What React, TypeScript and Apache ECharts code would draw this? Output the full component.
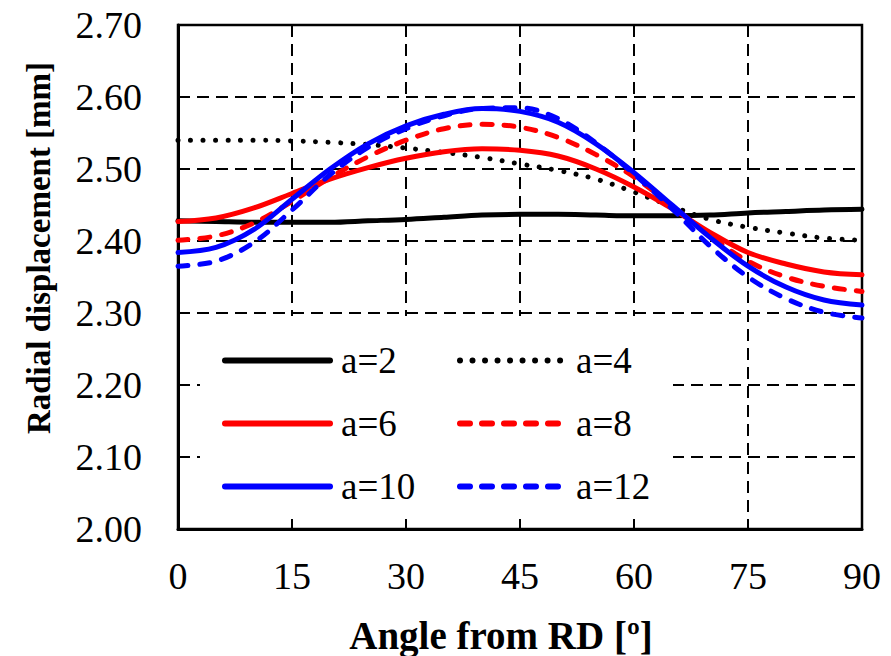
import React, { useEffect, useRef } from "react";
import * as echarts from "echarts";

const angles = [0, 5, 10, 15, 20, 25, 30, 35, 40, 45, 50, 55, 60, 65, 70, 75, 80, 85, 90];
const a2 = [2.428, 2.427, 2.426, 2.426, 2.426, 2.428, 2.430, 2.433, 2.436, 2.437, 2.437, 2.436, 2.435, 2.435, 2.436, 2.439, 2.441, 2.443, 2.444];
const a4 = [2.540, 2.540, 2.540, 2.539, 2.537, 2.534, 2.529, 2.523, 2.516, 2.507, 2.498, 2.486, 2.468, 2.448, 2.430, 2.419, 2.411, 2.404, 2.401];
const a6 = [2.427, 2.432, 2.446, 2.466, 2.486, 2.502, 2.515, 2.524, 2.528, 2.526, 2.518, 2.500, 2.475, 2.445, 2.412, 2.384, 2.368, 2.357, 2.353];
const a8 = [2.401, 2.407, 2.425, 2.455, 2.488, 2.517, 2.540, 2.556, 2.562, 2.558, 2.544, 2.520, 2.489, 2.449, 2.407, 2.372, 2.350, 2.337, 2.330];
const a10 = [2.384, 2.391, 2.416, 2.458, 2.500, 2.535, 2.560, 2.576, 2.584, 2.580, 2.565, 2.535, 2.495, 2.450, 2.405, 2.365, 2.336, 2.318, 2.311];
const a12 = [2.365, 2.372, 2.398, 2.443, 2.492, 2.530, 2.556, 2.574, 2.584, 2.585, 2.570, 2.536, 2.493, 2.445, 2.393, 2.350, 2.320, 2.301, 2.293];

const seriesNames = ["a=2", "a=4", "a=6", "a=8", "a=10", "a=12"];
const seriesValues = [a2, a4, a6, a8, a10, a12];
const seriesColors = ["#000000", "#000000", "#ff0000", "#ff0000", "#0000ff", "#0000ff"];
const seriesDash: any[] = ["solid", [0.01, 12.5], "solid", [10, 12], "solid", [10, 12]];

const xTitle = "Angle from RD [º]";
const yTitle = "Radial displacement [mm]";

const FONT = "Liberation Serif";

export default function App() {
  const ref = useRef<HTMLDivElement>(null);
  useEffect(() => {
    if (!ref.current) return;
    const chart = echarts.init(ref.current, undefined, { renderer: "svg" });
    const series = seriesNames.map((name, i) => ({
      name,
      type: "line",
      data: angles.map((a, j) => [a, seriesValues[i][j]]),
      smooth: 0.35,
      symbol: "none",
      lineStyle: {
        color: seriesColors[i],
        width: 5,
        type: seriesDash[i],
        cap: "round",
        join: "round",
      },
      itemStyle: { color: seriesColors[i] },
    }));
    const legendCommon = {
      orient: "vertical",
      top: 342,
      itemWidth: 105,
      itemHeight: 14,
      itemGap: 26,
      padding: 0,
      selectedMode: false,
      lineStyle: { width: 6 },
      itemStyle: { opacity: 0, color: "transparent", borderWidth: 0 },
      textStyle: {
        fontFamily: FONT,
        fontSize: 37,
        color: "#000",
        padding: [0, 0, 0, 6],
      },
      z: 10,
    };
    chart.setOption({
      animation: false,
      backgroundColor: "#fff",
      textStyle: { fontFamily: FONT },
      grid: {
        left: 178,
        right: 29,
        top: 25,
        bottom: 127,
        containLabel: false,
        show: true,
        borderColor: "#000",
        borderWidth: 2.5,
        backgroundColor: "transparent",
      },
      xAxis: {
        type: "value",
        min: 0,
        max: 90,
        interval: 15,
        axisLine: { show: true, lineStyle: { color: "#000", width: 3 } },
        axisTick: { show: false },
        axisLabel: { margin: 28, fontFamily: FONT, fontSize: 38, color: "#000" },
        splitLine: { show: true, lineStyle: { color: "#000", width: 2, type: [12, 7] } },
      },
      yAxis: {
        type: "value",
        min: 2.0,
        max: 2.7,
        interval: 0.1,
        axisLine: { show: true, lineStyle: { color: "#000", width: 3 } },
        axisTick: { show: false },
        axisLabel: {
          margin: 36,
          fontFamily: FONT,
          fontSize: 38,
          color: "#000",
          formatter: (v: number) => v.toFixed(2),
        },
        splitLine: { show: true, lineStyle: { color: "#000", width: 2, type: [12, 7] } },
      },
      legend: [
        { ...legendCommon, left: 222, data: ["a=2", "a=6", "a=10"] },
        { ...legendCommon, left: 457, data: ["a=4", "a=8", "a=12"] },
      ],
      graphic: [
        {
          type: "rect",
          z: 1,
          shape: { x: 200, y: 316, width: 473, height: 201 },
          style: { fill: "#fff" },
          silent: true,
        },
        {
          type: "text",
          x: 501,
          y: 635,
          z: 5,
          style: {
            text: xTitle,
            fontFamily: FONT,
            fontWeight: "bold",
            fontSize: 39,
            fill: "#000",
            align: "center",
            verticalAlign: "middle",
          },
        },
        {
          type: "text",
          x: 39,
          y: 248,
          rotation: Math.PI / 2,
          z: 5,
          style: {
            text: yTitle,
            fontFamily: FONT,
            fontWeight: "bold",
            fontSize: 33,
            fill: "#000",
            align: "center",
            verticalAlign: "middle",
          },
        },
      ],
      series,
    });
    return () => chart.dispose();
  }, []);
  return (
    <div
      ref={ref}
      style={{ position: "fixed", left: 0, top: 0, width: 891, height: 656, background: "#fff" }}
    />
  );
}
